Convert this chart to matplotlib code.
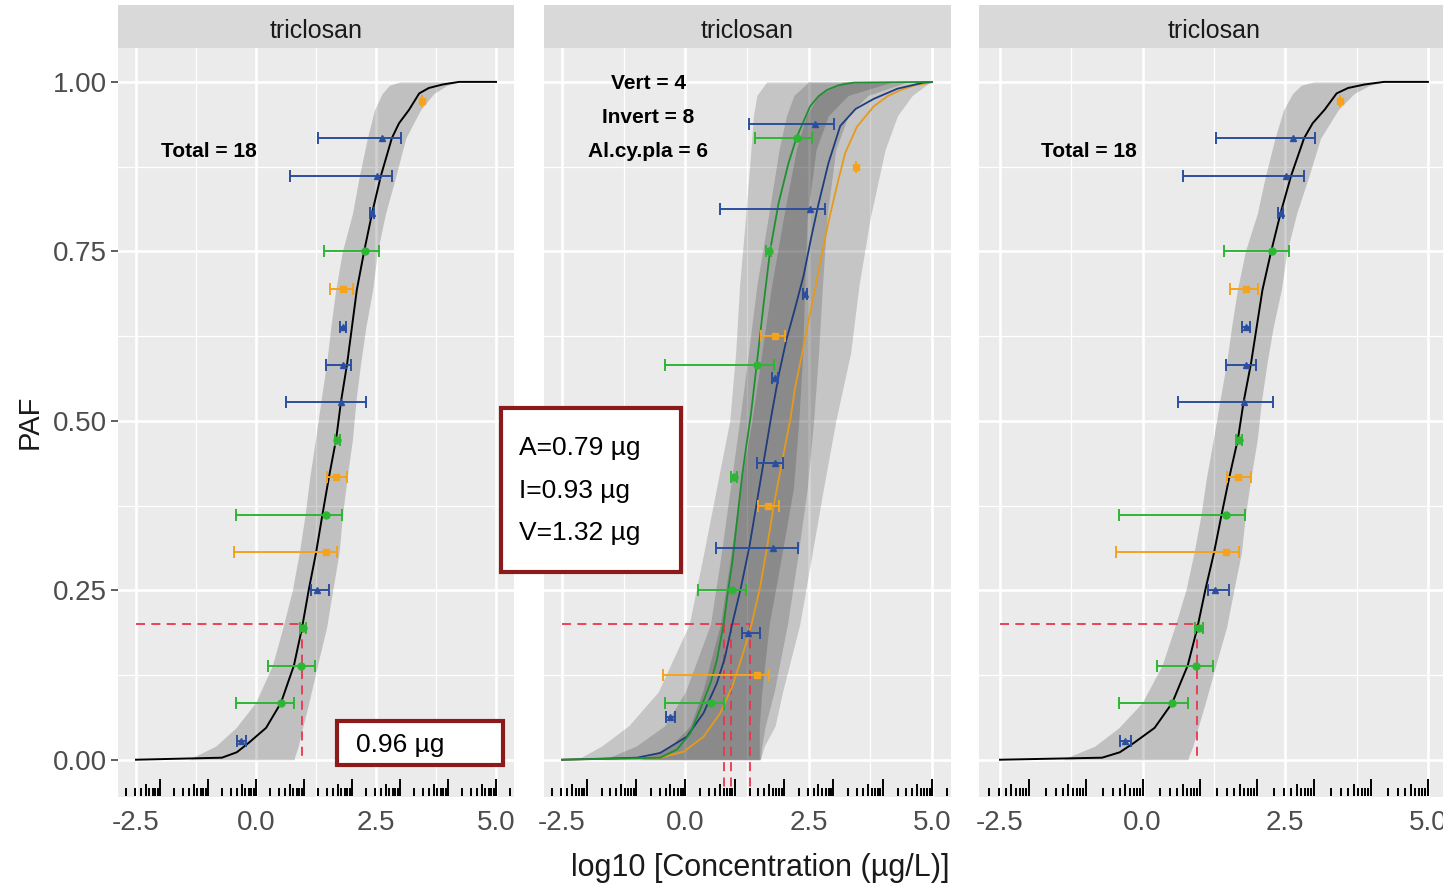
import matplotlib
matplotlib.use('Agg')
import matplotlib.pyplot as plt
import numpy as np
from matplotlib.patches import Rectangle
from matplotlib.transforms import blended_transform_factory

plt.rcParams['font.family'] = ['Liberation Sans', 'DejaVu Sans']

# ---------------- data ----------------
chemical = "triclosan"
xtick_values = [-2.5, 0.0, 2.5, 5.0]
xtick_labels = ["-2.5", "0.0", "2.5", "5.0"]
ytick_values = [0.0, 0.25, 0.5, 0.75, 1.0]
ytick_labels = ["0.00", "0.25", "0.50", "0.75", "1.00"]

group_names = ["Vert", "Invert", "Al.cy.pla"]
group_counts = [4, 8, 6]
group_point_colors = ["#f5a31c", "#2b4f9e", "#2fb536"]
group_line_colors = ["#e59a1e", "#1f3c7c", "#1f9030"]
group_markers = ["s", "^", "o"]

# species toxicity (log10 ug/L) with interval, taxonomic group, PAF in the pooled and per-group SSD
sp_x = [-0.31, 0.52, 0.94, 0.98, 1.27, 1.46, 1.46, 1.67, 1.69, 1.77, 1.81, 1.81, 1.81, 2.27, 2.42, 2.52, 2.63, 3.46]
sp_lo = [-0.40, -0.42, 0.25, 0.92, 1.15, -0.46, -0.42, 1.48, 1.64, 0.62, 1.46, 1.75, 1.54, 1.42, 2.38, 0.71, 1.29, 3.46]
sp_hi = [-0.21, 0.79, 1.23, 1.05, 1.52, 1.69, 1.79, 1.90, 1.74, 2.29, 1.98, 1.88, 2.02, 2.56, 2.46, 2.83, 3.02, 3.46]
sp_group = ["Invert", "Al.cy.pla", "Al.cy.pla", "Al.cy.pla", "Invert", "Vert", "Al.cy.pla", "Vert", "Al.cy.pla",
            "Invert", "Invert", "Invert", "Vert", "Al.cy.pla", "Invert", "Invert", "Invert", "Vert"]
paf_total = [0.028, 0.083, 0.139, 0.194, 0.250, 0.306, 0.361, 0.417, 0.472, 0.528, 0.583, 0.639, 0.694, 0.750,
             0.806, 0.861, 0.917, 0.972]
paf_group = [0.0625, 0.083, 0.250, 0.417, 0.1875, 0.125, 0.583, 0.375, 0.750, 0.3125, 0.4375, 0.5625, 0.625, 0.917,
             0.6875, 0.8125, 0.9375, 0.875]

# pooled SSD curve and its confidence band
total_curve_x = [-2.5, -0.71, -0.40, -0.15, 0.21, 0.52, 0.79, 0.96, 1.10, 1.25, 1.38, 1.52, 1.67, 1.77, 1.90, 2.00,
                 2.10, 2.25, 2.42, 2.60, 2.83, 2.98, 3.19, 3.40, 3.60, 3.88, 4.05, 4.23, 5.0]
total_curve_y = [0.0, 0.003, 0.011, 0.025, 0.047, 0.084, 0.139, 0.195, 0.251, 0.305, 0.360, 0.417, 0.473, 0.528,
                 0.585, 0.639, 0.693, 0.749, 0.807, 0.861, 0.917, 0.939, 0.959, 0.983, 0.991, 0.996, 0.998, 1.0, 1.0]
total_band_y = [0.0, 0.003, 0.020, 0.047, 0.084, 0.139, 0.195, 0.251, 0.305, 0.360, 0.417, 0.473, 0.528, 0.585,
                0.639, 0.693, 0.750, 0.806, 0.860, 0.917, 0.959, 0.983, 0.995, 1.0]
total_band_lo = [-1.40, -1.33, -0.84, -0.42, -0.01, 0.34, 0.56, 0.76, 0.90, 1.02, 1.12, 1.24, 1.35, 1.47, 1.56,
                 1.66, 1.80, 2.01, 2.15, 2.32, 2.47, 2.63, 2.78, 3.0]
total_band_hi = [0.80, 0.80, 0.88, 0.97, 1.10, 1.28, 1.47, 1.60, 1.73, 1.80, 1.90, 2.01, 2.08, 2.18, 2.29, 2.43,
                 2.53, 2.70, 2.91, 3.12, 3.43, 3.71, 3.98, 4.23]
hc20_total = 0.96

# per-group SSD curves
vert_curve_x = [-2.5, -0.51, -0.03, 0.37, 0.71, 0.95, 1.15, 1.35, 1.52, 1.66, 1.79, 1.93, 2.13, 2.23, 2.37, 2.50,
                2.64, 2.77, 2.91, 3.07, 3.24, 3.48, 3.82, 4.10, 4.36, 4.65, 4.97]
vert_curve_y = [0.0, 0.003, 0.012, 0.034, 0.069, 0.108, 0.152, 0.202, 0.256, 0.315, 0.374, 0.428, 0.503, 0.551,
                0.600, 0.649, 0.698, 0.747, 0.796, 0.846, 0.895, 0.934, 0.964, 0.979, 0.988, 0.995, 0.999]
invert_curve_x = [-2.5, -0.98, -0.51, 0.03, 0.37, 0.64, 0.80, 0.95, 1.13, 1.30, 1.45, 1.60, 1.75, 1.90, 2.05,
                  2.22, 2.40, 2.55, 2.70, 2.90, 3.14, 3.45, 3.82, 4.30, 4.83, 5.0]
invert_curve_y = [0.0, 0.003, 0.010, 0.034, 0.069, 0.113, 0.150, 0.200, 0.255, 0.315, 0.380, 0.445, 0.510, 0.570,
                  0.620, 0.665, 0.715, 0.770, 0.820, 0.880, 0.935, 0.960, 0.975, 0.990, 0.999, 1.0]
algae_curve_x = [-2.5, -0.51, -0.17, 0.10, 0.30, 0.51, 0.64, 0.78, 0.85, 0.95, 1.05, 1.15, 1.23, 1.33, 1.45, 1.59,
                 1.72, 1.89, 2.09, 2.26, 2.53, 2.70, 2.87, 3.10, 3.41, 5.0]
algae_curve_y = [0.0, 0.003, 0.015, 0.039, 0.074, 0.113, 0.147, 0.202, 0.241, 0.290, 0.354, 0.418, 0.460, 0.510,
                 0.585, 0.674, 0.752, 0.821, 0.880, 0.919, 0.964, 0.979, 0.988, 0.995, 0.999, 1.0]

# per-group confidence bands
group_band_y = [0.0, 0.02, 0.05, 0.1, 0.2, 0.3, 0.4, 0.5, 0.6, 0.7, 0.8, 0.9, 0.95, 0.98, 1.0]
vert_band_lo = [-2.2, -1.7, -1.15, -0.55, 0.08, 0.36, 0.63, 0.90, 1.02, 1.10, 1.22, 1.33, 1.38, 1.45, 1.65]
vert_band_hi = [1.52, 1.60, 1.82, 1.97, 2.32, 2.56, 2.80, 3.05, 3.35, 3.52, 3.75, 4.05, 4.30, 4.60, 4.97]
invert_band_lo = [-1.66, -1.00, -0.42, 0.00, 0.51, 0.72, 0.91, 1.10, 1.28, 1.45, 1.68, 1.90, 2.05, 2.20, 2.50]
invert_band_hi = [1.52, 1.55, 1.62, 1.80, 2.07, 2.28, 2.47, 2.60, 2.70, 2.78, 2.87, 3.05, 3.30, 3.70, 4.50]
algae_band_lo = [-0.91, -0.30, 0.10, 0.35, 0.71, 0.92, 1.11, 1.35, 1.55, 1.75, 1.99, 2.25, 2.45, 2.70, 3.20]
algae_band_hi = [1.50, 1.50, 1.50, 1.55, 1.70, 1.95, 2.19, 2.30, 2.38, 2.42, 2.47, 2.65, 2.90, 3.30, 4.20]
hc20_groups = [1.32, 0.93, 0.79]   # V, I, A

# ---------------- layout helpers ----------------
W, H = 1443, 889
fig = plt.figure(figsize=(W / 100, H / 100), dpi=100)
fig.patch.set_facecolor('white')

PANEL_TOP, PANEL_BOT, STRIP_TOP = 48, 797, 5
XLIM = (-2.875, 5.375)
YLIM = (-0.055, 1.05)


def fx(px):
    return px / W


def fy(py):
    return 1 - py / H


def make_panel(left, right, show_y):
    ax = fig.add_axes([fx(left), fy(PANEL_BOT), fx(right) - fx(left), fy(PANEL_TOP) - fy(PANEL_BOT)])
    ax.set_facecolor('#ebebeb')
    for s in ax.spines.values():
        s.set_visible(False)
    ax.set_xlim(XLIM)
    ax.set_ylim(YLIM)
    ax.set_xticks(xtick_values)
    ax.set_xticklabels(xtick_labels)
    ax.set_xticks([-1.25, 1.25, 3.75], minor=True)
    ax.set_yticks(ytick_values)
    ax.set_yticks([0.125, 0.375, 0.625, 0.875], minor=True)
    if show_y:
        ax.set_yticklabels(ytick_labels)
        ax.tick_params(axis='y', which='major', length=5, width=1.1, color='#333333', pad=3,
                       labelsize=20, labelcolor='#4d4d4d')
    else:
        ax.set_yticklabels([])
        ax.tick_params(axis='y', which='major', length=0)
    ax.tick_params(axis='y', which='minor', length=0)
    ax.tick_params(axis='x', which='both', length=0)
    ax.tick_params(axis='x', which='major', pad=9, labelsize=20, labelcolor='#4d4d4d')
    ax.grid(which='major', color='white', lw=1.9)
    ax.grid(which='minor', color='white', lw=0.9)
    ax.set_axisbelow(True)
    # strip
    sax = fig.add_axes([fx(left), fy(PANEL_TOP), fx(right) - fx(left), fy(STRIP_TOP) - fy(PANEL_TOP)])
    sax.set_facecolor('#d9d9d9')
    sax.set_xticks([])
    sax.set_yticks([])
    for s in sax.spines.values():
        s.set_visible(False)
    sax.text(0.5, 0.40, chemical, ha='center', va='center', fontsize=18, color='#1a1a1a',
             transform=sax.transAxes)
    # log ticks along bottom
    trans = blended_transform_factory(ax.transData, ax.transAxes)
    ph = PANEL_BOT - PANEL_TOP
    for k in range(-3, 6):
        for m in range(1, 10):
            xv = k + np.log10(m)
            if XLIM[0] < xv < XLIM[1]:
                L = 17 if m == 1 else (12 if m == 5 else 8)
                ax.plot([xv, xv], [1.5 / ph, (L + 1.5) / ph], transform=trans, color='black', lw=1.4,
                        solid_capstyle='butt', zorder=2)
    return ax


def draw_points(ax, paf):
    for gi, g in enumerate(group_names):
        idx = [i for i, s in enumerate(sp_group) if s == g]
        xs = np.array([sp_x[i] for i in idx])
        lo = np.array([sp_lo[i] for i in idx])
        hi = np.array([sp_hi[i] for i in idx])
        ys = np.array([paf[i] for i in idx])
        ax.errorbar(xs, ys, xerr=[xs - lo, hi - xs], fmt=group_markers[gi], color=group_point_colors[gi],
                    ms=5, elinewidth=1.4, capsize=4, capthick=1.4, zorder=5)


red = '#e8364e'
dash = (0, (5, 3.5))


def pooled_panel(left, right, show_y, label_x):
    ax = make_panel(left, right, show_y)
    ax.fill_betweenx(total_band_y, total_band_lo, total_band_hi, color='black', alpha=0.18, lw=0, zorder=1)
    ax.plot([-2.5, hc20_total], [0.2, 0.2], color=red, lw=1.3, ls=dash, zorder=2.5)
    ax.plot([hc20_total, hc20_total], [0.2, 0.0], color=red, lw=1.3, ls=dash, zorder=2.5)
    ax.plot(total_curve_x, total_curve_y, color='black', lw=1.4, zorder=3)
    draw_points(ax, paf_total)
    ax.text(label_x, 0.898, "Total = %d" % sum(group_counts), ha='center', va='center', fontsize=15,
            fontweight='bold', color='black')
    return ax


ax1 = pooled_panel(118, 514, True, -0.98)
ax3 = pooled_panel(978.6, 1449.3, False, -0.95)

# middle panel: per-group SSDs
ax2 = make_panel(543.5, 950.5, False)
bands = [(vert_band_lo, vert_band_hi), (invert_band_lo, invert_band_hi), (algae_band_lo, algae_band_hi)]
for lo, hi in bands:
    ax2.fill_betweenx(group_band_y, lo, hi, color='black', alpha=0.16, lw=0, zorder=1)
ax2.plot([-2.5, max(hc20_groups)], [0.2, 0.2], color=red, lw=1.3, ls=dash, zorder=2.5)
for h in hc20_groups:
    ax2.plot([h, h], [0.2, -0.04], color=red, lw=1.3, ls=dash, zorder=2.5, clip_on=False)
curves = [(vert_curve_x, vert_curve_y), (invert_curve_x, invert_curve_y), (algae_curve_x, algae_curve_y)]
for gi, (cx, cy) in enumerate(curves):
    ax2.plot(cx, cy, color=group_line_colors[gi], lw=1.3, zorder=3)
draw_points(ax2, paf_group)
for gi, yy in zip(range(3), [0.998, 0.948, 0.898]):
    ax2.text(-0.75, yy, "%s = %d" % (group_names[gi], group_counts[gi]), ha='center', va='center',
             fontsize=15, fontweight='bold', color='black')

# axis titles
fig.text(fx(760), fy(868), "log10 [Concentration (µg/L)]", ha='center', va='center', fontsize=22,
         color='#1a1a1a')
fig.text(fx(30), fy(422), "PAF", ha='center', va='center', rotation=90, fontsize=21, color='#1a1a1a')

# highlighted boxes
box_edge = '#8b1a1a'


def box(x0, y0, x1, y1):
    r = Rectangle((fx(x0), fy(y1)), fx(x1) - fx(x0), fy(y0) - fy(y1), transform=fig.transFigure,
                  facecolor='white', edgecolor=box_edge, lw=3, zorder=10)
    fig.add_artist(r)


box(337, 721, 503, 765)
fig.text(fx(356), fy(745), "%.2f µg" % hc20_total, ha='left', va='center', fontsize=19, color='black', zorder=11)
box(501, 408, 681, 572)
for lab, val, py in zip(["A", "I", "V"], [hc20_groups[2], hc20_groups[1], hc20_groups[0]], [448, 491, 533]):
    fig.text(fx(519), fy(py), "%s=%.2f µg" % (lab, val), ha='left', va='center', fontsize=19, color='black',
             zorder=11)

fig.savefig('out.png', dpi=100, facecolor='white')
